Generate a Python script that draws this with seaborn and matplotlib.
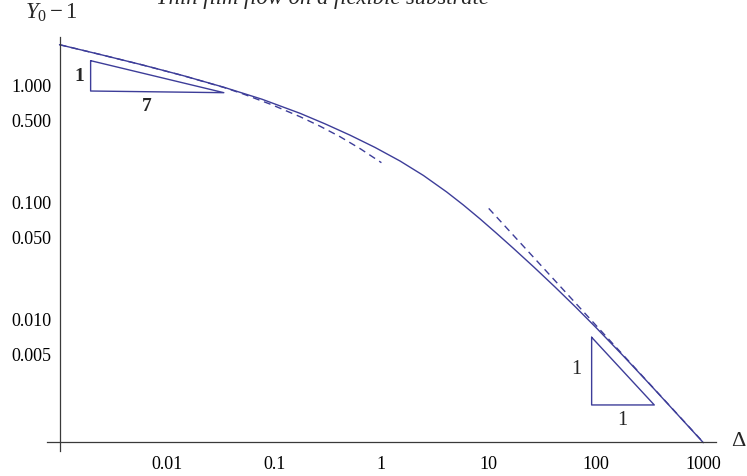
import matplotlib
matplotlib.use("Agg")
import matplotlib.pyplot as plt
import pandas as pd
import seaborn as sns
from matplotlib.ticker import FixedLocator, FixedFormatter, NullFormatter

# Numerical solution: Y0 - 1 against Delta
delta_full = [0.001, 0.002415, 0.005841, 0.014125, 0.03412, 0.07713, 0.1743, 0.2981,
              0.5097, 0.8717, 1.490, 2.460, 4.061, 5.804, 8.296, 11.86, 16.96, 26.52,
              41.49, 64.91, 101.5, 179.8, 318.6, 564.3, 1000.0]
y_full = [2.232, 1.837, 1.504, 1.216, 0.9652, 0.7630, 0.5785, 0.4701,
          0.3763, 0.2955, 0.2263, 0.1703, 0.1229, 0.09517, 0.07244, 0.05441, 0.04060, 0.02790,
          0.01894, 0.01270, 0.008410, 0.004875, 0.002779, 0.001570, 0.000885]

# Small-Delta expansion
delta_small = [0.001, 0.002415, 0.005841, 0.014125, 0.03412, 0.05164, 0.09489, 0.1743,
               0.2678, 0.4113, 0.6413, 1.0]
y_small = [2.232, 1.837, 1.503, 1.215, 0.9614, 0.8459, 0.6853, 0.5413,
           0.4488, 0.3650, 0.2864, 0.2189]

# Large-Delta asymptote, Y0 - 1 ~ 0.89 / Delta
delta_large = [10.0, 1000.0]
y_large = [0.089, 0.00089]

# Slope triangles
tri_small_x = [0.00195, 0.00195, 0.034, 0.00195]
tri_small_y = [1.63, 0.897, 0.868, 1.63]
tri_large_x = [91.0, 91.0, 349.0, 91.0]
tri_large_y = [0.00705, 0.00186, 0.00186, 0.00705]

x_major = [0.01, 0.1, 1, 10, 100, 1000]
x_major_labels = ["0.01", "0.1", "1", "10", "100", "1000"]
y_major = [0.001, 0.005, 0.01, 0.05, 0.1, 0.5, 1.0]
y_major_labels = ["", "0.005", "0.010", "0.050", "0.100", "0.500", "1.000"]

sns.set_theme(style="white")
plt.rcParams["font.family"] = ["Liberation Serif", "DejaVu Serif"]
plt.rcParams["mathtext.fontset"] = "custom"
plt.rcParams["mathtext.rm"] = "Liberation Serif"
plt.rcParams["mathtext.it"] = "Liberation Serif:italic"

W, H = 747, 476
fig = plt.figure(figsize=(W / 100, H / 100), dpi=100)
ax = fig.add_axes([47 / W, (H - 451) / H, (716 - 47) / W, (451 - 36.7) / H])
ax.set_xscale("log")
ax.set_yscale("log")

curve = "#3d3d99"
dash = (0, (5, 3.5))
df_full = pd.DataFrame({"delta": delta_full, "y": y_full})
df_small = pd.DataFrame({"delta": delta_small, "y": y_small})
df_large = pd.DataFrame({"delta": delta_large, "y": y_large})

sns.lineplot(data=df_full, x="delta", y="y", ax=ax, color=curve, lw=1.0,
             estimator=None, sort=False)
sns.lineplot(data=df_small, x="delta", y="y", ax=ax, color=curve, lw=1.0,
             estimator=None, sort=False, linestyle=dash)
sns.lineplot(data=df_large, x="delta", y="y", ax=ax, color=curve, lw=1.0,
             estimator=None, sort=False, linestyle=dash)
sns.lineplot(x=tri_small_x, y=tri_small_y, ax=ax, color=curve, lw=1.0,
             estimator=None, sort=False)
sns.lineplot(x=tri_large_x, y=tri_large_y, ax=ax, color=curve, lw=1.0,
             estimator=None, sort=False)

ax.text(0.00152, 1.19, "1", fontsize=14, fontweight="bold", ha="center", va="center")
ax.text(0.0065, 0.659, "7", fontsize=14, fontweight="bold", ha="center", va="center")
ax.text(66, 0.00375, "1", fontsize=14.5, ha="center", va="center")
ax.text(174, 0.00136, "1", fontsize=14.5, ha="center", va="center")

ax.set_xlim(10 ** -3.1165, 10 ** 3.118)
ax.set_ylim(10 ** -3.124, 10 ** 0.417)

for s in ["top", "right"]:
    ax.spines[s].set_visible(False)
ax.spines["left"].set_position(("data", 0.001))
ax.spines["bottom"].set_position(("data", 0.000892))
for s in ["left", "bottom"]:
    ax.spines[s].set_color("#3a3a3a")
    ax.spines[s].set_linewidth(0.9)

decades = [0.001, 0.01, 0.1, 1, 10, 100]
x_minor = [d * m for d in decades for m in range(2, 10)]
y_minor = [d * m for d in [0.001, 0.01, 0.1, 1] for m in (2, 3, 4, 6, 7, 8, 9)]
y_minor = [v for v in y_minor if v < 2.6]

ax.xaxis.set_major_locator(FixedLocator(x_major))
ax.xaxis.set_major_formatter(FixedFormatter(x_major_labels))
ax.xaxis.set_minor_locator(FixedLocator(x_minor))
ax.xaxis.set_minor_formatter(NullFormatter())
ax.yaxis.set_major_locator(FixedLocator(y_major))
ax.yaxis.set_major_formatter(FixedFormatter(y_major_labels))
ax.yaxis.set_minor_locator(FixedLocator(y_minor))
ax.yaxis.set_minor_formatter(NullFormatter())

ax.tick_params(axis="both", which="both", direction="in", color="#3a3a3a",
               width=0.8, labelsize=13, labelcolor="black")
ax.tick_params(axis="both", which="major", length=6)
ax.tick_params(axis="both", which="minor", length=3)
ax.tick_params(axis="x", which="major", pad=10)
ax.tick_params(axis="y", which="major", pad=5.5)
ax.set_xlabel("")
ax.set_ylabel("")

fig.text(739 / W, 1 - 441 / H, r"$\Delta$", fontsize=16, ha="center", va="center")
fig.text(51 / W, 1 - 13 / H, r"$Y_0 - 1$", fontsize=16.5, ha="center", va="center")
fig.text(322 / W, 1 - 4 / H, "Thin film flow on a flexible substrate",
         fontsize=16.3, style="italic", ha="center", va="baseline")

fig.savefig("out.png", dpi=100)
